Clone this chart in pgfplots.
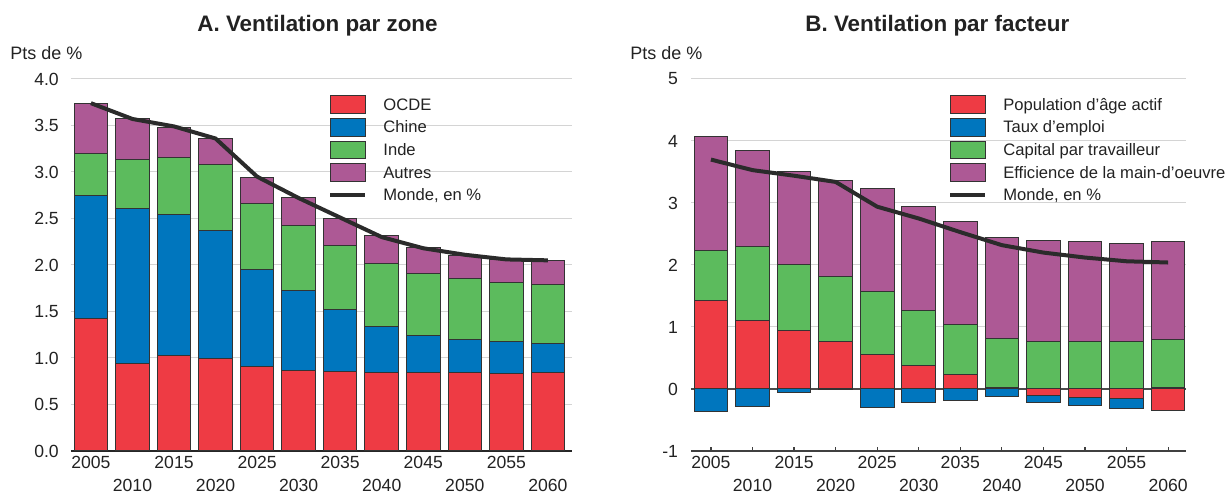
\documentclass[border=0pt]{standalone}
\usepackage{fontspec}
\setmainfont{Liberation Sans}
\usepackage{pgfplots}
\usepackage{pgfplotstable}
\pgfplotsset{compat=1.18}

\definecolor{cred}{HTML}{EE3B44}
\definecolor{cblue}{HTML}{0076BE}
\definecolor{cgreen}{HTML}{5CBB5D}
\definecolor{cpurple}{HTML}{AD5995}
\definecolor{linecol}{HTML}{2B2B2B}
\definecolor{bardraw}{HTML}{333333}
\definecolor{gridgrey}{HTML}{D4D4D4}
\definecolor{txt}{HTML}{222222}

% A: contributions by zone (stacked), world growth
\pgfplotstableread{
x ocde chine inde autres monde
0  1.42 1.33 0.45 0.54 3.74
1  0.94 1.67 0.52 0.44 3.57
2  1.03 1.51 0.62 0.32 3.49
3  0.99 1.38 0.71 0.28 3.36
4  0.91 1.04 0.71 0.28 2.95
5  0.87 0.86 0.70 0.30 2.72
6  0.85 0.67 0.69 0.29 2.51
7  0.84 0.50 0.68 0.30 2.30
8  0.84 0.40 0.67 0.28 2.18
9  0.84 0.36 0.65 0.25 2.11
10 0.83 0.35 0.63 0.25 2.06
11 0.84 0.32 0.63 0.26 2.05
}\zone

% B: contributions by factor; positive parts, then negative parts
\pgfplotstableread{
x rpos bpos cap eff rneg bneg monde
0  1.42 0.00 0.82 1.83  0.00 -0.37 3.70
1  1.11 0.00 1.19 1.54  0.00 -0.29 3.53
2  0.95 0.00 1.06 1.49  0.00 -0.06 3.44
3  0.77 0.00 1.04 1.56 -0.01  0.00 3.34
4  0.55 0.00 1.03 1.66  0.00 -0.30 2.94
5  0.38 0.00 0.89 1.68  0.00 -0.21 2.75
6  0.23 0.00 0.81 1.66  0.00 -0.19 2.53
7  0.02 0.00 0.79 1.63  0.00 -0.12 2.32
8  0.00 0.00 0.77 1.63 -0.10 -0.11 2.20
9  0.00 0.00 0.76 1.62 -0.13 -0.14 2.12
10 0.00 0.00 0.76 1.59 -0.16 -0.15 2.06
11 0.00 0.02 0.78 1.58 -0.35  0.00 2.04
}\facteur

\pgfplotsset{
  panel/.style={
    scale only axis, height=186pt,
    ybar stacked, bar width=16.8pt,
    reverse stacked plots=false,
    axis x line*=bottom, axis y line*=left,
    y axis line style={draw=none},
    ytick style={draw=none},
    ymajorgrids, grid style={gridgrey, line width=0.5pt},
    xtick={0,2,4,6,8,10},
    xticklabels={2005,2015,2025,2035,2045,2055},
    extra x ticks={1,3,5,7,9,11},
    extra x tick labels={2010,2020,2030,2040,2050,2060},
    extra x tick style={xticklabel style={yshift=-11.65pt}},
    xticklabel style={yshift=1pt},
    tick label style={font=\fontsize{8.8}{10}\selectfont, text=txt},
    /pgf/number format/assume math mode=true,
    every axis plot/.append style={draw=bardraw, line width=0.5pt},
    legend image code/.code={\draw[##1] (0pt,-3.65pt) rectangle (17.5pt,5.15pt);},
    legend cell align=left,
    legend style={draw=none, fill=none, inner sep=0pt, anchor=north west,
      font=\fontsize{8.3}{10}\selectfont, text=txt,
      row sep=2.0pt, column sep=0pt,
      /tikz/every odd column/.append style={column sep=8pt},
      nodes={inner sep=0pt, text height=6pt, text depth=1.8pt}},
  },
  monde/.style={sharp plot, stack plots=false, draw=linecol, line width=2pt,
    legend image code/.code={\path[draw=none, fill=none] (0pt,-3.65pt) rectangle (17.5pt,5.15pt);
      \draw[##1] (0pt,0.75pt) -- (17.5pt,0.75pt);}},
}

\begin{document}
\begin{tikzpicture}
\path[use as bounding box] (0,0) rectangle (613.5pt,248pt);

\begin{axis}[panel,
  at={(35.5pt,22.5pt)}, anchor=south west, width=250.5pt,
  xmin=-0.48, xmax=11.58, ymin=0, ymax=4,
  ytick={0,0.5,1,1.5,2,2.5,3,3.5,4},
  yticklabel style={xshift=-2.6pt},
  yticklabel style={/pgf/number format/fixed, /pgf/number format/fixed zerofill,
    /pgf/number format/precision=1},
  major tick length=0pt, xtick style={draw=none},
  x axis line style={draw=black!85, line width=1pt},
  legend style={at={(rel axis cs:0.513,0.957)}},
]
\addplot[fill=cred] table[x=x, y=ocde] {\zone};
\addplot[fill=cblue] table[x=x, y=chine] {\zone};
\addplot[fill=cgreen] table[x=x, y=inde] {\zone};
\addplot[fill=cpurple] table[x=x, y=autres] {\zone};
\addplot[monde] table[x=x, y=monde] {\zone};
\legend{OCDE, Chine, Inde, Autres, {Monde, en \%}}
\end{axis}

\begin{axis}[panel,
  at={(345.5pt,22.5pt)}, anchor=south west, width=247.5pt,
  xmin=-0.48, xmax=11.43, ymin=-1, ymax=5,
  ytick={-1,1,2,3,4,5},
  extra y ticks={0},
  extra y tick style={grid=major, grid style={draw=black!70, line width=0.6pt}},
  yticklabel style={xshift=-3pt},
  xtick align=inside, major tick length=2pt,
  xtick style={draw=black!75, line width=0.6pt},
  x axis line style={draw=black!75, line width=0.8pt},
  legend style={at={(rel axis cs:0.519,0.957)}},
]
\addplot[fill=cred] table[x=x, y=rpos] {\facteur};
\addplot[fill=cblue] table[x=x, y=bpos] {\facteur};
\addplot[fill=cgreen] table[x=x, y=cap] {\facteur};
\addplot[fill=cpurple] table[x=x, y=eff] {\facteur};
\addplot[fill=cred, forget plot] table[x=x, y=rneg] {\facteur};
\addplot[fill=cblue, forget plot] table[x=x, y=bneg] {\facteur};
\addplot[monde] table[x=x, y=monde] {\facteur};
\legend{Population d’âge actif, Taux d’emploi, Capital par travailleur,
  Efficience de la main-d’oeuvre, {Monde, en \%}}
\end{axis}

\node[anchor=base west, inner sep=0pt, text=txt,
  font=\fontsize{11.2}{13}\selectfont\bfseries] at (98.5pt,232.2pt) {A. Ventilation par zone};
\node[anchor=base west, inner sep=0pt, text=txt,
  font=\fontsize{11.2}{13}\selectfont\bfseries] at (402.5pt,232.2pt) {B. Ventilation par facteur};
\node[anchor=base west, inner sep=0pt, text=txt,
  font=\fontsize{9}{11}\selectfont] at (5pt,218pt) {Pts de \%};
\node[anchor=base west, inner sep=0pt, text=txt,
  font=\fontsize{9}{11}\selectfont] at (315pt,218pt) {Pts de \%};
\end{tikzpicture}
\end{document}
